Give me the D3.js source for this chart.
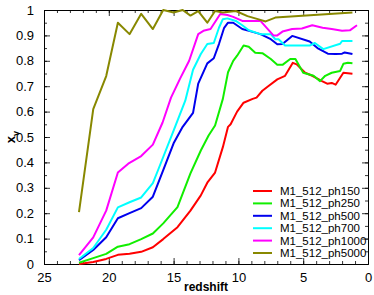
<!DOCTYPE html>
<html>
<head>
<meta charset="utf-8">
<script src="https://cdn.jsdelivr.net/npm/d3@7"></script>
<style>
  body { margin: 0; background: #fff; }
  svg { font-family: "Liberation Sans", Arial, sans-serif; }
</style>
</head>
<body>
<div id="chart"></div>
<script>
// redshift / neutral fraction samples
var names = ["M1_512_ph150", "M1_512_ph250", "M1_512_ph500", "M1_512_ph700", "M1_512_ph1000", "M1_512_ph5000"];
var colors = ["#ff0000", "#11ee00", "#0000ee", "#00ffff", "#ff00ff", "#888800"];

var zPh150 = [22.3, 21.2, 20.2, 19.3, 18.4, 17.5, 16.6, 15.8, 14.7, 13.7, 12.9, 12.4, 11.8, 11.2, 10.8, 10.6, 10.1, 9.6, 8.9, 8.6, 8.15, 7.7, 7.0, 6.4, 5.8, 5.5, 4.85, 4.3, 3.55, 3.15, 2.8, 2.5, 1.9, 1.2];
var xvPh150 = [0.0, 0.008, 0.02, 0.036, 0.04, 0.048, 0.066, 0.098, 0.145, 0.21, 0.27, 0.32, 0.36, 0.46, 0.54, 0.55, 0.60, 0.635, 0.65, 0.655, 0.682, 0.70, 0.727, 0.741, 0.792, 0.786, 0.753, 0.741, 0.72, 0.71, 0.713, 0.706, 0.753, 0.749];

var zPh250 = [22.3, 21.2, 20.2, 19.3, 18.4, 17.5, 16.6, 15.8, 14.7, 13.7, 12.9, 12.3, 11.8, 11.2, 10.8, 10.4, 10.1, 9.6, 9.2, 8.7, 8.15, 7.5, 7.0, 6.6, 6.0, 5.6, 5.0, 4.2, 3.7, 3.3, 2.8, 2.15, 1.9, 1.55, 1.2];
var xvPh250 = [0.005, 0.023, 0.04, 0.068, 0.078, 0.098, 0.12, 0.16, 0.224, 0.357, 0.447, 0.506, 0.545, 0.65, 0.755, 0.8, 0.82, 0.86, 0.855, 0.832, 0.83, 0.807, 0.784, 0.784, 0.807, 0.807, 0.753, 0.741, 0.72, 0.741, 0.753, 0.76, 0.788, 0.792, 0.79];

var zPh500 = [22.3, 21.2, 20.2, 19.3, 18.4, 17.5, 16.6, 15.8, 15.0, 14.3, 13.5, 13.1, 12.4, 11.9, 11.5, 11.1, 10.8, 10.4, 9.7, 8.9, 8.3, 7.5, 7.0, 6.6, 5.85, 4.5, 3.9, 3.1, 2.5, 2.0, 1.8, 1.2];
var xvPh500 = [0.015, 0.055, 0.105, 0.18, 0.2, 0.22, 0.265, 0.37, 0.475, 0.54, 0.595, 0.71, 0.79, 0.81, 0.866, 0.93, 0.95, 0.95, 0.925, 0.914, 0.905, 0.885, 0.865, 0.866, 0.898, 0.876, 0.85, 0.828, 0.827, 0.828, 0.833, 0.827];

var zPh700 = [22.3, 21.2, 20.2, 19.3, 18.4, 17.5, 16.6, 16.15, 15.0, 14.1, 13.5, 12.9, 12.4, 11.9, 11.5, 11.2, 10.85, 10.2, 9.7, 9.2, 8.3, 7.5, 7.15, 6.9, 6.4, 4.5, 4.1, 3.45, 2.15, 2.0, 1.2];
var xvPh700 = [0.02, 0.063, 0.135, 0.223, 0.243, 0.262, 0.318, 0.376, 0.525, 0.643, 0.765, 0.827, 0.866, 0.87, 0.93, 0.964, 0.967, 0.957, 0.94, 0.92, 0.905, 0.905, 0.885, 0.885, 0.86, 0.86, 0.87, 0.846, 0.867, 0.878, 0.878];

var zPh1000 = [22.3, 21.2, 20.2, 19.3, 18.5, 17.5, 16.6, 15.85, 15.2, 14.5, 13.8, 13.1, 12.7, 12.15, 11.4, 10.85, 10.4, 9.7, 8.3, 7.3, 7.0, 6.6, 5.85, 5.1, 4.3, 3.5, 2.8, 2.0, 1.4, 0.85];
var xvPh1000 = [0.035, 0.105, 0.21, 0.36, 0.395, 0.425, 0.47, 0.557, 0.655, 0.73, 0.8, 0.905, 0.918, 0.925, 0.984, 0.98, 0.973, 0.957, 0.957, 0.9, 0.9, 0.915, 0.925, 0.927, 0.94, 0.93, 0.925, 0.918, 0.92, 0.94];

var zPh5000 = [22.3, 21.2, 20.2, 19.3, 18.4, 17.5, 16.6, 15.8, 15.0, 14.3, 13.7, 13.1, 12.4, 11.8, 11.2, 10.2, 9.3, 8.5, 7.9, 7.15, 1.2];
var xvPh5000 = [0.204, 0.61, 0.74, 0.95, 0.905, 0.985, 0.925, 1.0, 0.99, 1.0, 0.978, 0.996, 0.95, 0.996, 0.99, 0.996, 0.976, 0.964, 0.955, 0.97, 0.99];

var xTicks = [25, 20, 15, 10, 5, 0];
var yTicks = [0, 0.1, 0.2, 0.3, 0.4, 0.5, 0.6, 0.7, 0.8, 0.9, 1];

var allZ = [zPh150, zPh250, zPh500, zPh700, zPh1000, zPh5000];
var allXv = [xvPh150, xvPh250, xvPh500, xvPh700, xvPh1000, xvPh5000];

var W = 374, H = 295;
var margin = {top: 10, right: 6, bottom: 31, left: 44};
var width = W - margin.left - margin.right;
var height = H - margin.top - margin.bottom;

var svg = d3.select("#chart").append("svg")
  .attr("width", W)
  .attr("height", H);

var g = svg.append("g")
  .attr("transform", "translate(" + margin.left + "," + margin.top + ")");

var x = d3.scaleLinear().domain([25, 0]).range([0, width]);
var y = d3.scaleLinear().domain([0, 1]).range([height, 0]);

// minor ticks
var xMinor = d3.range(0, 26, 1);
var yMinor = d3.range(0, 1.0001, 0.05);

function styleAxis(sel) {
  sel.select(".domain").attr("stroke", "#000").attr("stroke-width", 1);
  sel.selectAll(".tick line").attr("stroke", "#000").attr("stroke-width", 0.8);
  sel.selectAll("text").attr("fill", "#000").style("font-size", "13px");
}

g.append("g").attr("transform", "translate(0," + height + ")")
  .call(d3.axisBottom(x).tickValues(xMinor).tickSizeInner(-3).tickSizeOuter(0).tickFormat(""))
  .call(styleAxis);
g.append("g").attr("transform", "translate(0," + height + ")")
  .call(d3.axisBottom(x).tickValues(xTicks).tickSizeInner(-6).tickSizeOuter(0).tickPadding(9).tickFormat(d3.format("d")))
  .call(styleAxis);
g.append("g")
  .call(d3.axisTop(x).tickValues(xMinor).tickSizeInner(-3).tickSizeOuter(0).tickFormat(""))
  .call(styleAxis);
g.append("g")
  .call(d3.axisTop(x).tickValues(xTicks).tickSizeInner(-6).tickSizeOuter(0).tickFormat(""))
  .call(styleAxis);

g.append("g")
  .call(d3.axisLeft(y).tickValues(yMinor).tickSizeInner(-3).tickSizeOuter(0).tickFormat(""))
  .call(styleAxis);
g.append("g")
  .call(d3.axisLeft(y).tickValues(yTicks).tickSizeInner(-6).tickSizeOuter(0).tickPadding(10).tickFormat(function(d) { return d3.format("~g")(d); }))
  .call(styleAxis);
g.append("g").attr("transform", "translate(" + width + ",0)")
  .call(d3.axisRight(y).tickValues(yMinor).tickSizeInner(-3).tickSizeOuter(0).tickFormat(""))
  .call(styleAxis);
g.append("g").attr("transform", "translate(" + width + ",0)")
  .call(d3.axisRight(y).tickValues(yTicks).tickSizeInner(-6).tickSizeOuter(0).tickFormat(""))
  .call(styleAxis);

// curves
var line = d3.line()
  .x(function(d) { return x(d[0]); })
  .y(function(d) { return y(d[1]); });

names.forEach(function(name, i) {
  var pts = allZ[i].map(function(z, j) { return [z, allXv[i][j]]; });
  g.append("path")
    .datum(pts)
    .attr("fill", "none")
    .attr("stroke", colors[i])
    .attr("stroke-width", 2)
    .attr("stroke-linejoin", "round")
    .attr("d", line);
});

// axis titles
svg.append("text")
  .attr("x", margin.left + width / 2)
  .attr("y", 291)
  .attr("text-anchor", "middle")
  .style("font-size", "12px")
  .style("font-weight", "bold")
  .text("redshift");

var yl = svg.append("text")
  .attr("transform", "translate(15," + (margin.top + y(0.5)) + ") rotate(-90)")
  .attr("text-anchor", "middle")
  .style("font-size", "13px")
  .style("font-weight", "bold");
yl.append("tspan").text("x");
yl.append("tspan").attr("dy", 4).style("font-size", "9px").text("v");

// legend
var legend = svg.append("g").attr("transform", "translate(253,191)");
names.forEach(function(name, i) {
  var row = legend.append("g").attr("transform", "translate(0," + (i * 12.4) + ")");
  row.append("line")
    .attr("x1", 0).attr("x2", 19)
    .attr("stroke", colors[i])
    .attr("stroke-width", 2);
  row.append("text")
    .attr("x", 27)
    .attr("y", 4)
    .style("font-size", "11.5px")
    .text(name);
});
</script>
</body>
</html>
